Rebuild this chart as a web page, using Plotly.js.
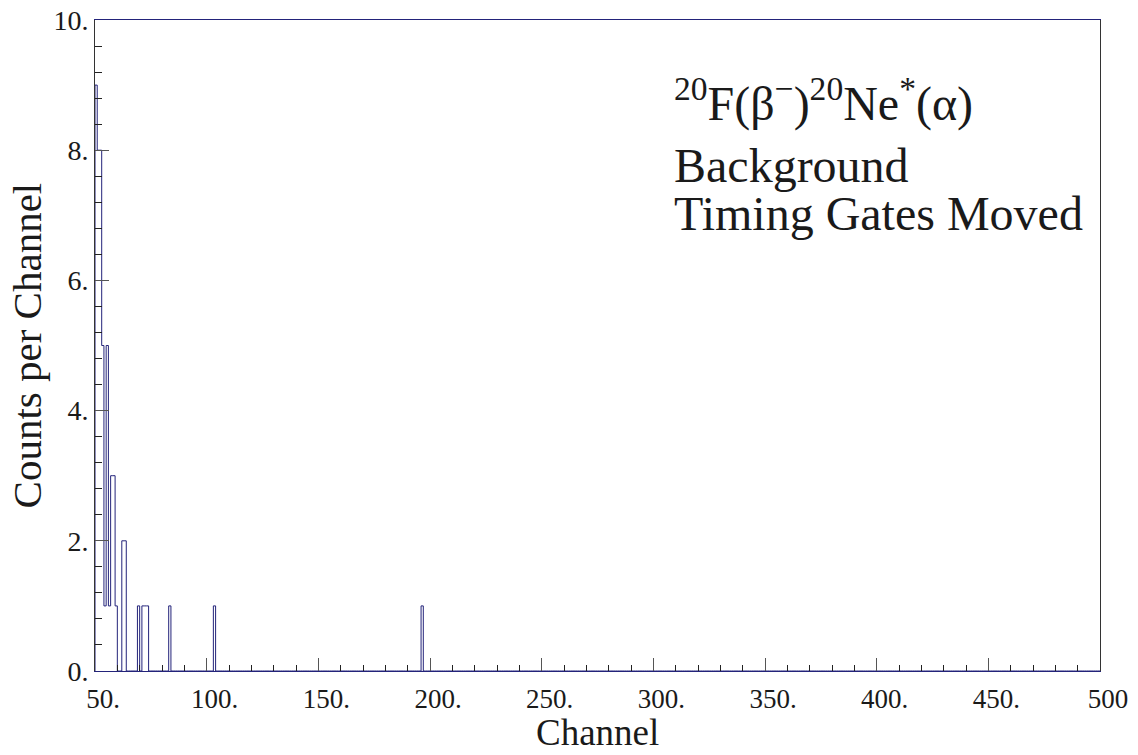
<!DOCTYPE html>
<html>
<head>
<meta charset="utf-8">
<script src="https://cdn.plot.ly/plotly-3.0.1.min.js"></script>
<style>
  html, body { margin: 0; padding: 0; background: #ffffff; }
  #chart { width: 1138px; height: 755px; }
</style>
</head>
<body>
<div id="chart"></div>
<script>
// ---- data ----
const binWidth = 1;                         // channels per histogram bin
const binStarts = [50, 51, 52, 53, 54, 55, 56, 57, 58, 59, 62, 63, 69, 71, 72, 73, 83, 103, 196];
const counts    = [9,  8,  8,  5,  1,  5,  1,  3,  3,  1,  2,  2,  1,  1,  1,  1,  1,  1,   1];
const channelRange = [50, 500];
const countRange = [0, 10];
const xTickVals = [50, 100, 150, 200, 250, 300, 350, 400, 450, 500];
const xTickText = ["50.", "100.", "150.", "200.", "250.", "300.", "350.", "400.", "450.", "500"];
const yTickVals = [0, 2, 4, 6, 8, 10];
const yTickText = ["0.", "2.", "4.", "6.", "8.", "10."];
const titleText = "<sup>20</sup>F(β<sup>−</sup>)<sup>20</sup>Ne<sup>*</sup>(α)";
const noteLines = ["Background", "Timing Gates Moved"];
const xTitle = "Channel";
const yTitle = "Counts per Channel";

// ---- build step outline of histogram ----
const countByBin = {};
binStarts.forEach((b, i) => { countByBin[Math.round(b / binWidth)] = counts[i]; });
const xs = [channelRange[0]];
const ys = [0];
const nBins = Math.round((channelRange[1] - channelRange[0]) / binWidth);
for (let k = 0; k < nBins; k++) {
  const left = channelRange[0] + k * binWidth;
  xs.push(left);
  ys.push(countByBin[Math.round(left / binWidth)] || 0);
}
xs.push(channelRange[1]);
ys.push(ys[ys.length - 1]);

const font = "Liberation Serif, Times New Roman, serif";
const navy = "#23237a";
const ink = "#1a1a1a";

const trace = {
  type: "scatter",
  mode: "lines",
  x: xs,
  y: ys,
  line: { shape: "hv", color: navy, width: 1 },
  hoverinfo: "skip"
};

const layout = {
  width: 1138,
  height: 755,
  margin: { l: 95, r: 38, t: 20, b: 84 },
  paper_bgcolor: "#ffffff",
  plot_bgcolor: "#ffffff",
  showlegend: false,
  font: { family: font, color: ink, size: 28 },
  xaxis: {
    range: channelRange,
    tickmode: "array",
    tickvals: xTickVals,
    ticktext: xTickText,
    ticks: "inside",
    ticklen: 13,
    tickwidth: 1,
    tickcolor: "#555555",
    minor: { tickmode: "linear", tick0: 0, dtick: 10, ticks: "inside", ticklen: 6, tickcolor: "#222222", tickwidth: 1 },
    showgrid: false,
    zeroline: false,
    showline: true,
    linecolor: navy,
    linewidth: 1,
    mirror: true,
    tickfont: { family: font, size: 27, color: ink },
    ticklabelshift: 8,
    ticklabelstandoff: 4
  },
  yaxis: {
    range: countRange,
    tickmode: "array",
    tickvals: yTickVals,
    ticktext: yTickText,
    ticks: "inside",
    ticklen: 14,
    tickwidth: 1,
    tickcolor: "#555555",
    minor: { tickmode: "linear", tick0: 0, dtick: 0.4, ticks: "inside", ticklen: 7, tickcolor: "#222222", tickwidth: 1 },
    showgrid: false,
    zeroline: false,
    showline: true,
    linecolor: "#333333",
    linewidth: 1,
    mirror: true,
    tickfont: { family: font, size: 28, color: ink }
  },
  annotations: [
    { xref: "paper", yref: "paper", x: 0.5, y: -0.128, xanchor: "center", yanchor: "bottom", borderpad: 0,
      text: xTitle, showarrow: false, font: { family: font, size: 37, color: ink } },
    { xref: "paper", yref: "paper", x: -0.0677, y: 0.5, xanchor: "center", yanchor: "middle", textangle: -90,
      text: yTitle, showarrow: false, font: { family: font, size: 41, color: ink } },
    { xref: "paper", yref: "paper", x: 0.574, y: 0.877, xanchor: "left", yanchor: "middle",
      text: titleText, showarrow: false, font: { family: font, size: 48, color: ink } },
    { xref: "paper", yref: "paper", x: 0.574, y: 0.776, xanchor: "left", yanchor: "middle",
      text: noteLines[0], showarrow: false, font: { family: font, size: 48, color: ink } },
    { xref: "paper", yref: "paper", x: 0.574, y: 0.703, xanchor: "left", yanchor: "middle",
      text: noteLines[1], showarrow: false, font: { family: font, size: 48, color: ink } }
  ]
};

Plotly.newPlot("chart", [trace], layout, { staticPlot: true, displayModeBar: false });
</script>
</body>
</html>
